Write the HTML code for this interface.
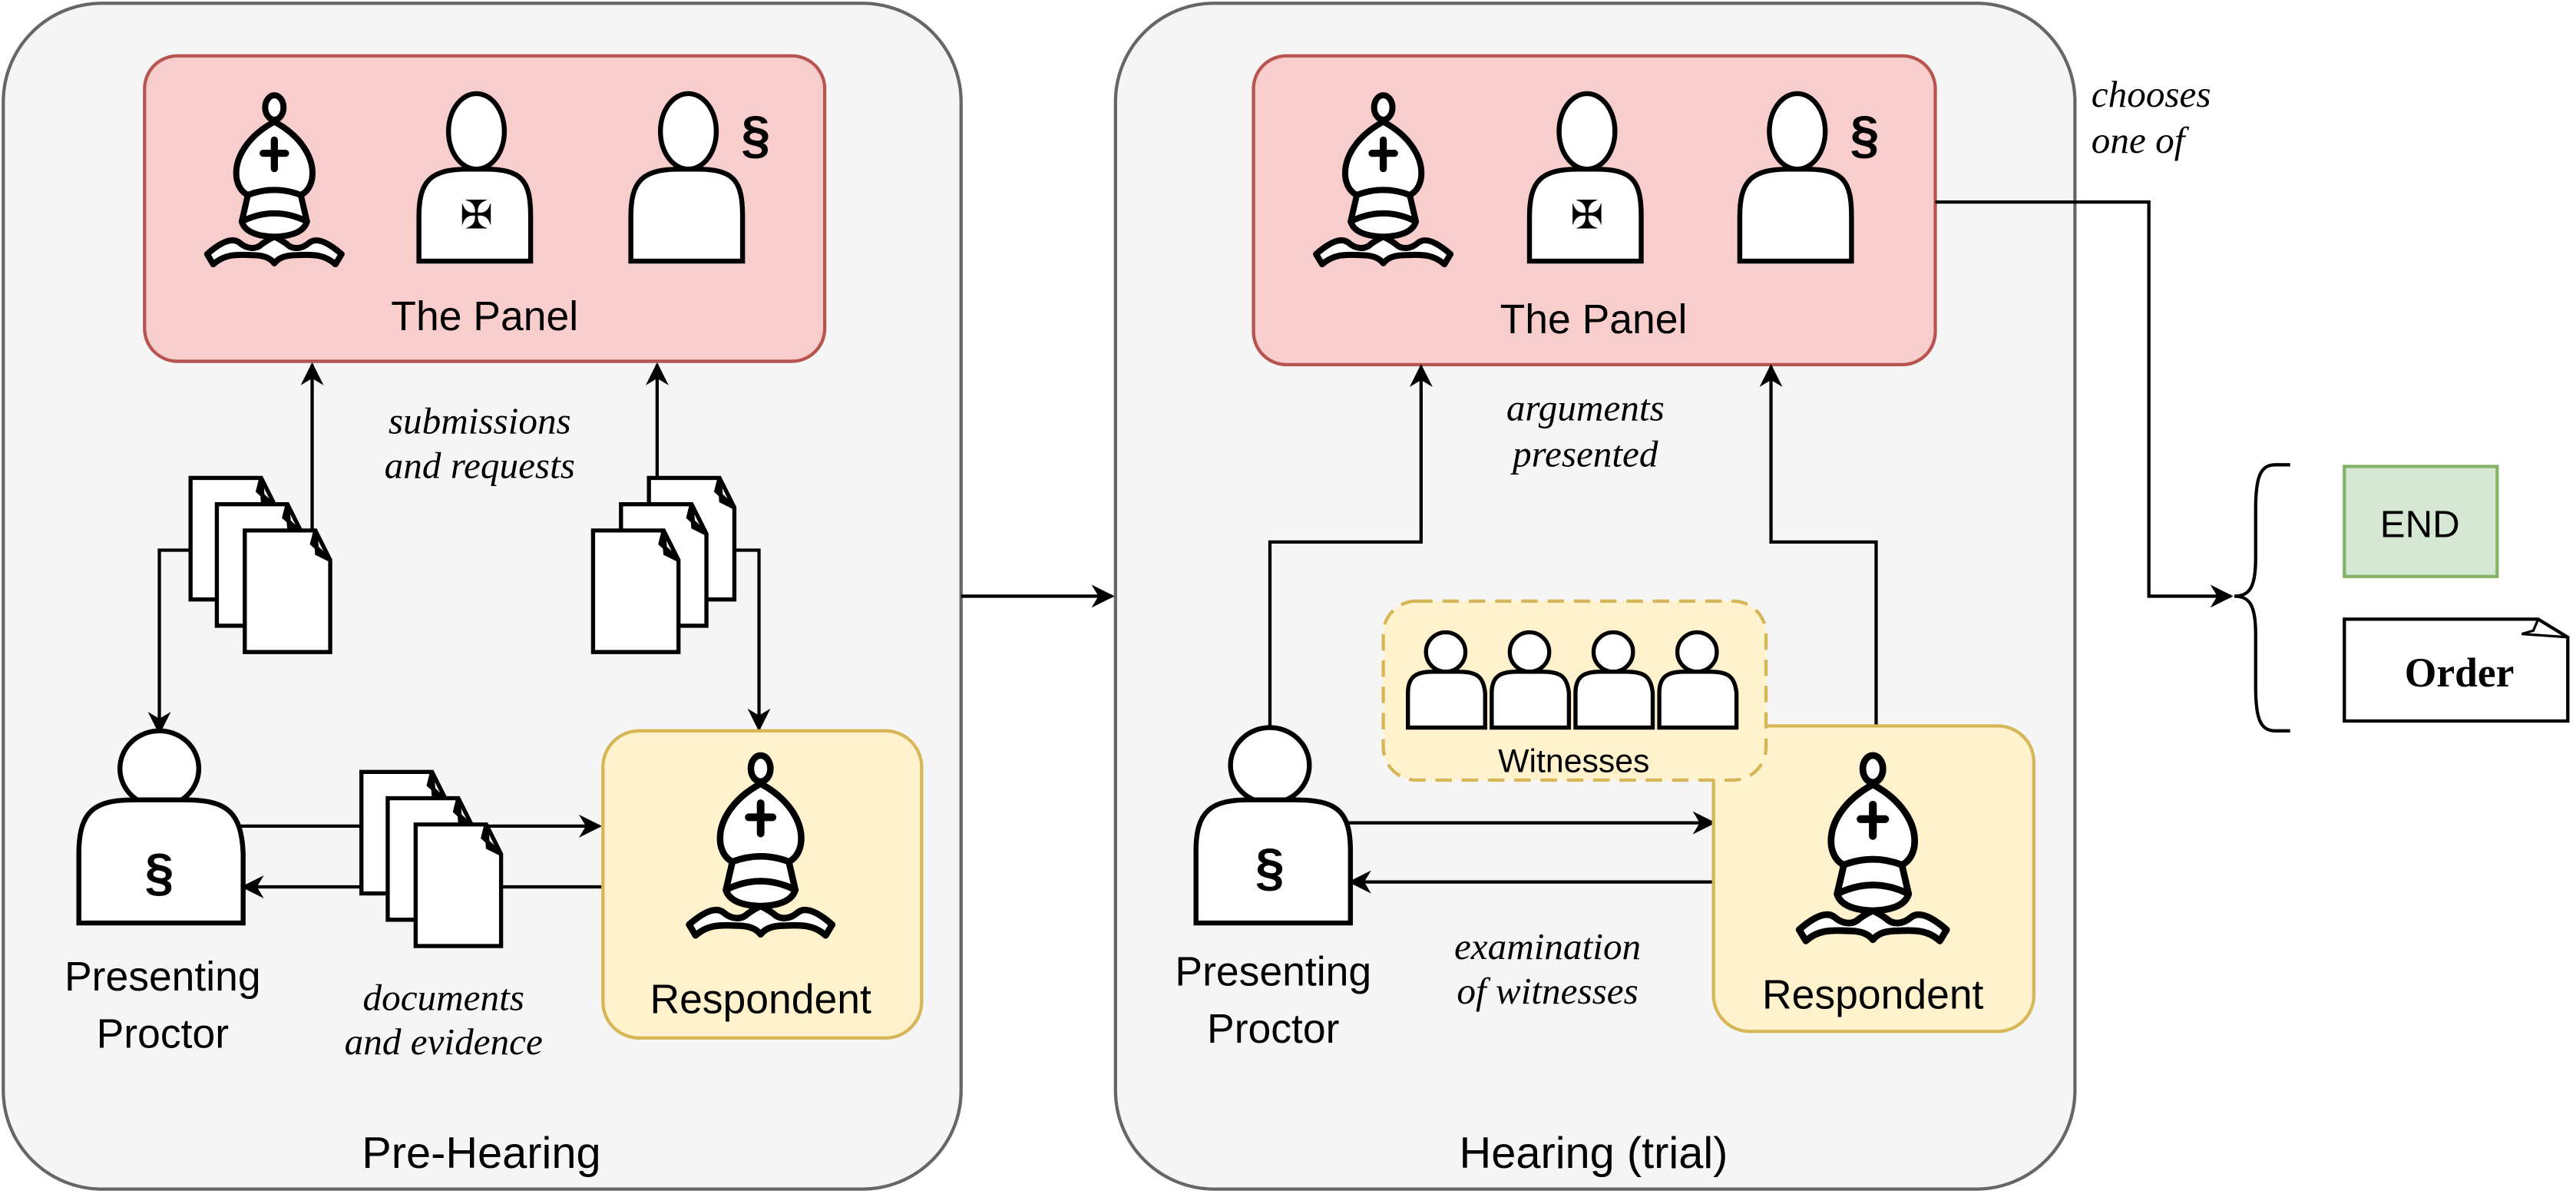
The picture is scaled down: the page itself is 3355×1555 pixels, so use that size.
<!DOCTYPE html>
<html><head><meta charset="utf-8"><style>
html,body{margin:0;padding:0;background:#fff;}
svg{display:block;}
.s{font-family:"Liberation Sans",sans-serif;}
.i{font-family:"Liberation Serif",serif;font-style:italic;}
</style></head><body>
<svg width="3355" height="1555" viewBox="0 0 1568 727" preserveAspectRatio="none" xmlns="http://www.w3.org/2000/svg">
<defs>
<marker id="a" viewBox="0 0 10 10" refX="9" refY="5" markerWidth="14" markerHeight="14" markerUnits="userSpaceOnUse" orient="auto">
<path d="M0,0 L10,5 L0,10 L3,5 Z" fill="#000"/></marker>
<g id="bishop" stroke="#000" stroke-width="6" fill="#fff" stroke-linejoin="round">
<ellipse cx="0" cy="12" rx="9" ry="12"/>
<path d="M0,26 C-26,40 -40,62 -37,82 C-35,92 -30,96 -26,98 Q0,88 26,98 C30,96 35,92 37,82 C40,62 26,40 0,26Z"/>
<path d="M0,44 V72 M-11,57 H11" fill="none" stroke-linecap="round" stroke-width="7"/>
<path d="M-26,98 L-32,124 Q0,108 32,124 L26,98 Q0,88 -26,98Z"/>
<path d="M-32,124 Q0,108 32,124 Q28,138 0,139 Q-28,138 -32,124Z"/>
<path d="M-66,156 C-50,142 -40,140 -34,145 C-27,151 -18,152 -12,146 Q-5,141 0,139 Q5,141 12,146 C18,152 27,151 34,145 C40,140 50,142 66,156 L60,166 C50,157 40,156 22,157 C10,157 4,160 0,165 C-4,160 -10,157 -22,157 C-40,156 -50,157 -60,166Z"/>
</g>
<g id="doc" stroke="#000" stroke-width="2.5" fill="#fff">
<path d="M0,0 H43 L52,18 V74 H0Z"/><path d="M43,0 L41,8 L52,18 L44,14Z" fill="#fff"/>
</g>
<g id="stack"><use href="#doc"/><use href="#doc" x="16" y="16"/><use href="#doc" x="33" y="32"/></g>
<g id="stackR"><use href="#doc" x="34"/><use href="#doc" x="17" y="16"/><use href="#doc" x="0" y="32"/></g>
</defs>

<rect x="2" y="2" width="583" height="722" rx="60" fill="#f5f5f5" stroke="#666" stroke-width="2"/>
<rect x="679" y="2" width="584" height="722" rx="60" fill="#f5f5f5" stroke="#666" stroke-width="2"/>

<rect x="88" y="34" width="414" height="186" rx="20" fill="#f8cecc" stroke="#b85450" stroke-width="2"/>
<use href="#bishop" transform="translate(167,58) scale(0.62)"/>
<g stroke="#000" stroke-width="3" fill="#fff">
<ellipse cx="290" cy="80" rx="17" ry="23"/>
<path d="M255,159 V132 C255,110 262,103 285,103 H295 C318,103 323,110 323,132 V159Z"/>
<ellipse cx="419" cy="80" rx="17" ry="23"/>
<path d="M384,159 V132 C384,110 391,103 414,103 H424 C447,103 452,110 452,132 V159Z"/>
</g>
<text x="290" y="139" font-size="24" text-anchor="middle" font-family="DejaVu Sans">✠</text>
<text x="460" y="93" class="s" font-size="32" font-weight="bold" text-anchor="middle">§</text>
<text x="295" y="201" class="s" font-size="25" text-anchor="middle">The Panel</text>

<g stroke="#000" stroke-width="2" fill="none">
<path d="M190,335 V222" marker-end="url(#a)"/>
<path d="M400,295 V222" marker-end="url(#a)"/>
<path d="M116,335 H97 V446" marker-end="url(#a)"/>
<path d="M447,335 H462 V444" marker-end="url(#a)"/>
<path d="M140,503 H365" marker-end="url(#a)"/>
<path d="M367,540 H148" marker-end="url(#a)"/>
<path d="M585,363 H677" marker-end="url(#a)"/>
</g>
<use href="#stack" x="116" y="291"/>
<use href="#stackR" x="361" y="291"/>
<text x="292" y="264" class="i" font-size="23" text-anchor="middle">submissions</text>
<text x="292" y="291" class="i" font-size="23" text-anchor="middle">and requests</text>

<g stroke="#000" stroke-width="3" fill="#fff">
<ellipse cx="97" cy="468" rx="24" ry="23"/>
<path d="M48,562 V520 C48,494 57,487 82,487 H112 C138,487 147,494 148,520 V562Z"/>
</g>
<text x="97" y="542" class="s" font-size="32" font-weight="bold" text-anchor="middle">§</text>
<text x="99" y="603" class="s" font-size="25" text-anchor="middle">Presenting</text>
<text x="99" y="638" class="s" font-size="25" text-anchor="middle">Proctor</text>

<rect x="367" y="445" width="194" height="187" rx="22" fill="#fff2cc" stroke="#d6b656" stroke-width="2"/>
<use href="#bishop" transform="translate(463,460) scale(0.66)"/>
<text x="463" y="617" class="s" font-size="25" text-anchor="middle">Respondent</text>
<use href="#stack" x="220" y="470"/>
<text x="270" y="615" class="i" font-size="23" text-anchor="middle">documents</text>
<text x="270" y="642" class="i" font-size="23" text-anchor="middle">and evidence</text>
<text x="293" y="711" class="s" font-size="27" text-anchor="middle">Pre-Hearing</text>

<rect x="763" y="34" width="415" height="188" rx="20" fill="#f8cecc" stroke="#b85450" stroke-width="2"/>
<use href="#bishop" transform="translate(842,58) scale(0.62)"/>
<g stroke="#000" stroke-width="3" fill="#fff">
<ellipse cx="966" cy="80" rx="17" ry="23"/>
<path d="M931,159 V132 C931,110 938,103 961,103 H971 C994,103 999,110 999,132 V159Z"/>
<ellipse cx="1094" cy="80" rx="17" ry="23"/>
<path d="M1059,159 V132 C1059,110 1066,103 1089,103 H1099 C1122,103 1127,110 1127,132 V159Z"/>
</g>
<text x="966" y="139" font-size="24" text-anchor="middle" font-family="DejaVu Sans">✠</text>
<text x="1135" y="93" class="s" font-size="32" font-weight="bold" text-anchor="middle">§</text>
<text x="970" y="203" class="s" font-size="25" text-anchor="middle">The Panel</text>

<g stroke="#000" stroke-width="2" fill="none">
<path d="M773,445 V330 H865 V223" marker-end="url(#a)"/>
<path d="M1142,443 V330 H1078 V223" marker-end="url(#a)"/>
<path d="M815,501 H1043" marker-end="url(#a)"/>
<path d="M1045,537 H822" marker-end="url(#a)"/>
<path d="M1178,123 H1308 V363 H1358" marker-end="url(#a)"/>
</g>
<text x="965" y="256" class="i" font-size="23" text-anchor="middle">arguments</text>
<text x="965" y="284" class="i" font-size="23" text-anchor="middle">presented</text>

<rect x="1043" y="442" width="195" height="186" rx="22" fill="#fff2cc" stroke="#d6b656" stroke-width="2"/>
<use href="#bishop" transform="translate(1140,460) scale(0.68)"/>
<text x="1140" y="614" class="s" font-size="25" text-anchor="middle">Respondent</text>

<rect x="842" y="366" width="233" height="109" rx="20" fill="#fff2cc" stroke="#d6b656" stroke-width="2" stroke-dasharray="10,6"/>
<g stroke="#000" stroke-width="2.5" fill="#fff">
<ellipse cx="880" cy="397" rx="12" ry="12"/><path d="M857,443 V422 C857,412 862,409 872,409 H888 C899,409 903,412 904,422 V443Z"/>
<ellipse cx="931" cy="397" rx="12" ry="12"/><path d="M908,443 V422 C908,412 913,409 923,409 H939 C950,409 954,412 955,422 V443Z"/>
<ellipse cx="982" cy="397" rx="12" ry="12"/><path d="M959,443 V422 C959,412 964,409 974,409 H990 C1001,409 1005,412 1006,422 V443Z"/>
<ellipse cx="1033" cy="397" rx="12" ry="12"/><path d="M1010,443 V422 C1010,412 1015,409 1025,409 H1041 C1052,409 1056,412 1057,422 V443Z"/>
</g>
<text x="958" y="470" class="s" font-size="20" text-anchor="middle">Witnesses</text>

<g stroke="#000" stroke-width="3" fill="#fff">
<ellipse cx="773" cy="466" rx="24" ry="23"/>
<path d="M728,562 V518 C728,494 737,487 760,487 H788 C814,487 822,494 822,518 V562Z"/>
</g>
<text x="773" y="539" class="s" font-size="32" font-weight="bold" text-anchor="middle">§</text>
<text x="775" y="600" class="s" font-size="25" text-anchor="middle">Presenting</text>
<text x="775" y="635" class="s" font-size="25" text-anchor="middle">Proctor</text>
<text x="942" y="584" class="i" font-size="23" text-anchor="middle">examination</text>
<text x="942" y="611" class="i" font-size="23" text-anchor="middle">of witnesses</text>
<text x="970" y="711" class="s" font-size="27" text-anchor="middle">Hearing (trial)</text>

<text x="1273" y="65" class="i" font-size="23">chooses</text>
<text x="1273" y="93" class="i" font-size="23">one of</text>
<path d="M1394,283 H1385 C1376,283 1373,290 1373,310 V340 C1373,358 1369,363 1360,363 C1369,363 1373,368 1373,386 V418 C1373,438 1376,445 1385,445 H1394" fill="none" stroke="#000" stroke-width="2"/>
<rect x="1427" y="284" width="93" height="67" fill="#d5e8d4" stroke="#82b366" stroke-width="2"/>
<text x="1473" y="327" class="s" font-size="23" text-anchor="middle">END</text>
<path d="M1427,377 H1545 L1563,388 V439 H1427Z" fill="#fff" stroke="#000" stroke-width="2"/>
<path d="M1545,377 L1542,384 L1535,386 L1563,388" fill="none" stroke="#000" stroke-width="1.5"/>
<text x="1497" y="418" font-family="Liberation Serif,serif" font-weight="bold" font-size="25" text-anchor="middle">Order</text>
</svg>
</body></html>
